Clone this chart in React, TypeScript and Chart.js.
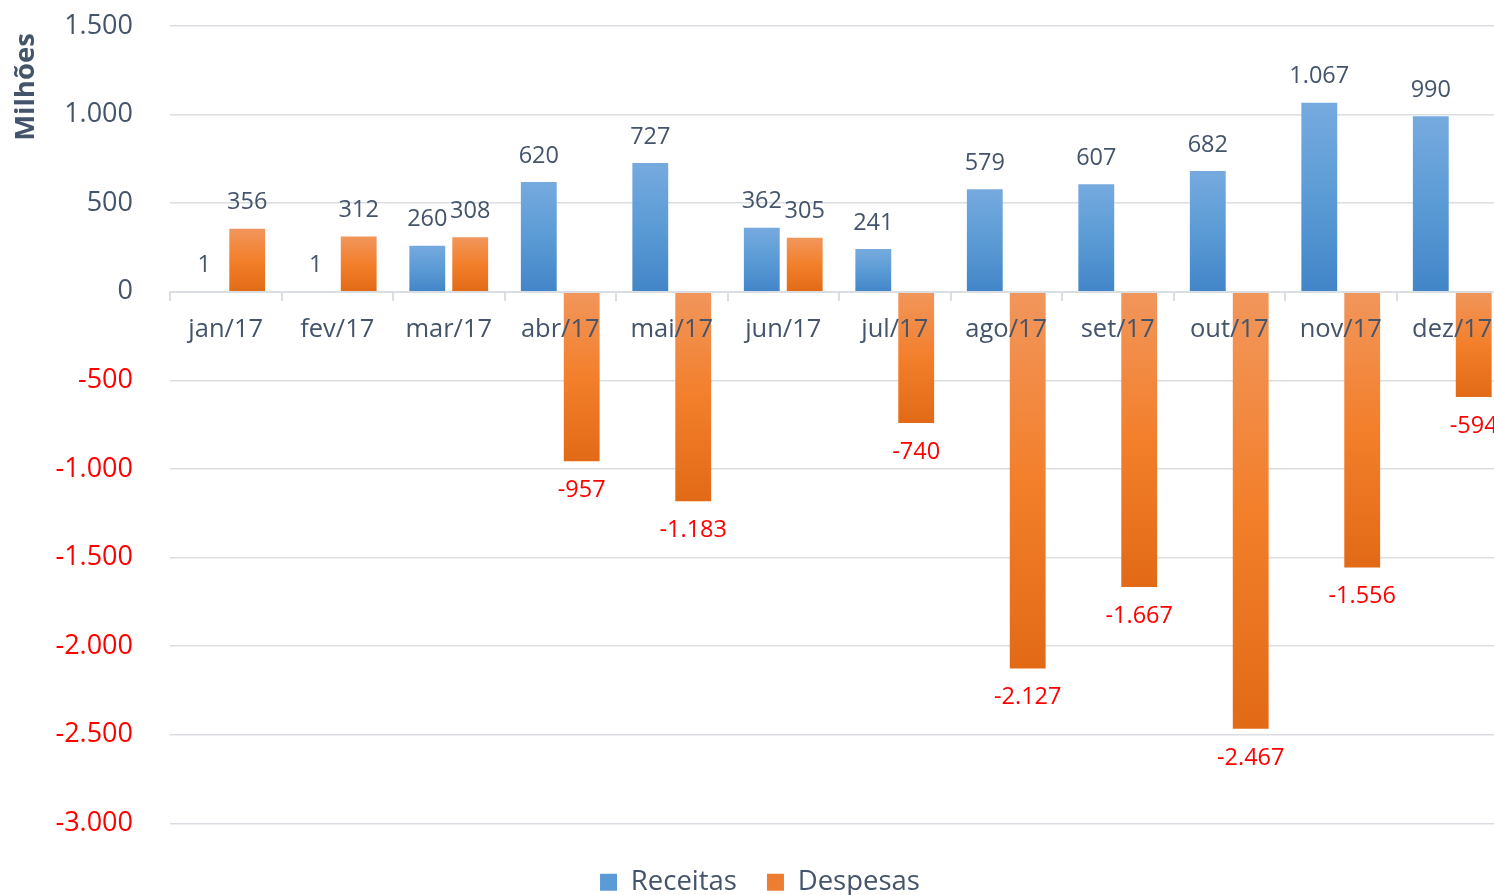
import React, { useEffect, useRef } from "react";
import { Chart, registerables } from "chart.js";

Chart.register(...registerables);

const categories = ["jan/17", "fev/17", "mar/17", "abr/17", "mai/17", "jun/17", "jul/17", "ago/17", "set/17", "out/17", "nov/17", "dez/17"];
const receitas = [1, 1, 260, 620, 727, 362, 241, 579, 607, 682, 1067, 990];
const despesas = [356, 312, 308, -957, -1183, 305, -740, -2127, -1667, -2467, -1556, -594];
const seriesNames = ["Receitas", "Despesas"];
const yTitle = "Milhões ";
const yMin = -3000;
const yMax = 1500;
const yStep = 500;

const SLATE = "#44546a";
const RED = "#ff0000";
const FONT = "'Open Sans', sans-serif";
const GRID = "#dadde2";

const blueStops = ["#76aadf", "#5b9bd5", "#4285c8"];
const orangeStops = ["#f1965c", "#f37f2b", "#e26a17"];
const legendColors = ["#5b9bd5", "#ed7d31"];

function fmt(v: number): string {
  const neg = v < 0;
  const s = String(Math.abs(Math.round(v))).replace(/\B(?=(\d{3})+(?!\d))/g, ".");
  return (neg ? "-" : "") + s;
}

function gradientFill(stops: string[]) {
  return (ctx: any) => {
    const chart = ctx.chart;
    const scales = chart.scales;
    if (!chart.chartArea || !scales || !scales.y || ctx.type !== "data") return stops[1];
    const v = ctx.raw as number;
    const yTop = scales.y.getPixelForValue(Math.max(v, 0));
    const yBot = scales.y.getPixelForValue(Math.min(v, 0));
    const g = chart.ctx.createLinearGradient(0, yTop, 0, yBot > yTop ? yBot : yTop + 1);
    g.addColorStop(0, stops[0]);
    g.addColorStop(0.5, stops[1]);
    g.addColorStop(1, stops[2]);
    return g;
  };
}

const valueLabels = {
  id: "valueLabels",
  afterDatasetsDraw(chart: any) {
    const ctx = chart.ctx;
    ctx.save();
    ctx.font = `23.5px ${FONT}`;
    ctx.textAlign = "center";
    ctx.textBaseline = "middle";
    chart.data.datasets.forEach((ds: any, di: number) => {
      const meta = chart.getDatasetMeta(di);
      meta.data.forEach((bar: any, i: number) => {
        const v = ds.data[i] as number;
        if (v >= 0) {
          ctx.fillStyle = SLATE;
          ctx.fillText(fmt(v), bar.x, bar.y - 26);
        } else {
          ctx.fillStyle = RED;
          ctx.fillText(fmt(v), bar.x, bar.y + 29);
        }
      });
    });
    ctx.restore();
  },
};

export default function App() {
  const ref = useRef<HTMLCanvasElement | null>(null);

  useEffect(() => {
    if (!ref.current) return;
    const chart = new Chart(ref.current, {
      type: "bar",
      data: {
        labels: categories,
        datasets: [
          {
            label: seriesNames[0],
            data: receitas,
            backgroundColor: gradientFill(blueStops),
            categoryPercentage: 0.77,
            barPercentage: 0.835,
          },
          {
            label: seriesNames[1],
            data: despesas,
            backgroundColor: gradientFill(orangeStops),
            categoryPercentage: 0.77,
            barPercentage: 0.835,
          },
        ],
      },
      options: {
        responsive: false,
        animation: false,
        layout: { padding: { top: 26, right: 2, left: 12, bottom: 0 } },
        plugins: {
          tooltip: { enabled: false },
          title: { display: false },
          legend: {
            position: "bottom",
            title: { display: true, text: " ", font: { size: 1 }, padding: { top: 14, bottom: 0 } },
            labels: {
              color: SLATE,
              font: { family: FONT, size: 27.5 },
              boxWidth: 17,
              boxHeight: 17,
              padding: 30,
              generateLabels: (c: any) =>
                c.data.datasets.map((ds: any, i: number) => ({
                  text: ds.label,
                  fillStyle: legendColors[i],
                  strokeStyle: legendColors[i],
                  lineWidth: 0,
                  hidden: false,
                  datasetIndex: i,
                  fontColor: SLATE,
                })),
            },
          },
        },
        scales: {
          x: {
            position: { y: 0 } as any,
            grid: {
              drawOnChartArea: false,
              drawTicks: true,
              tickLength: 8,
              color: GRID,
              lineWidth: 2,
              offset: true,
              z: 1,
            },
            border: { display: true, color: GRID, width: 2, z: 1 },
            ticks: {
              z: 1,
              color: SLATE,
              font: { family: FONT, size: 25.5 },
              padding: 15,
              maxRotation: 0,
              autoSkip: false,
            },
          },
          y: {
            min: yMin,
            max: yMax,
            afterFit: (scale: any) => {
              scale.width = 158;
              scale.paddingTop = 0;
              scale.paddingBottom = 0;
            },
            grid: { color: GRID, lineWidth: 1.5, drawTicks: false },
            border: { display: false },
            ticks: {
              stepSize: yStep,
              padding: 37,
              font: { family: FONT, size: 27 },
              color: (c: any) => (c.tick && c.tick.value < 0 ? RED : SLATE),
              callback: (v: any) => fmt(Number(v)),
            },
            title: {
              display: true,
              text: yTitle,
              align: "end",
              color: SLATE,
              font: { family: FONT, size: 27.5, weight: "bold", lineHeight: 1 },
              padding: { top: 0, bottom: 0 },
            },
          },
        },
      },
      plugins: [valueLabels],
    });
    return () => chart.destroy();
  }, []);

  return (
    <div style={{ position: "fixed", left: 0, top: 0, width: 1494, height: 895, overflow: "hidden", background: "#fff" }}>
      <canvas ref={ref} width={1510} height={906} style={{ display: "block" }} />
    </div>
  );
}
